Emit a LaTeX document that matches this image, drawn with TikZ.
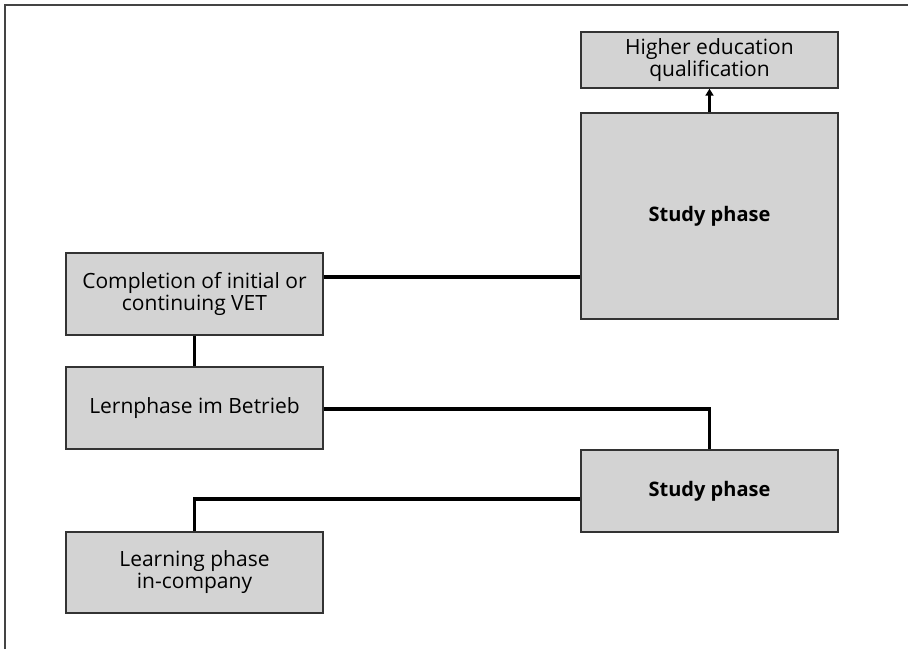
\documentclass[tikz,border=0pt]{standalone}
\usepackage{fontspec}
\setmainfont{Open Sans}
\usetikzlibrary{arrows.meta}
\definecolor{boxfill}{HTML}{D3D3D3}
\definecolor{boxline}{HTML}{333333}
\definecolor{framecol}{HTML}{444444}
\tikzset{
  phasebox/.style={draw=boxline, line width=1.4pt, fill=boxfill, rectangle,
    minimum width=257pt, inner sep=0pt, align=center,
    font=\fontsize{21}{22}\selectfont},
  boldbox/.style={phasebox, font=\fontsize{20}{22}\selectfont\bfseries},
  link/.style={line width=3.3pt, black},
}
\begin{document}
\begin{tikzpicture}[x=1pt,y=-1pt]
  \useasboundingbox (0,0) rectangle (908,649);
  % page frame: top and left edges only
  \draw[line width=2pt, framecol] (5,649) -- (5,5) -- (908,5);

  % boxes
  \node[phasebox, minimum height=56pt]  (high)   at (709.5,60)  {Higher education\\qualification};
  \node[boldbox,  minimum height=206pt] (study1) at (709.5,216) {Study phase};
  \node[phasebox, minimum height=82pt]  (comp)   at (194.5,294) {Completion of initial or\\continuing VET};
  \node[phasebox, minimum height=82pt]  (lern)   at (194.5,408) {Lernphase im Betrieb};
  \node[boldbox,  minimum height=82pt]  (study2) at (709.5,491) {Study phase};
  \node[phasebox, minimum height=81pt]  (learn)  at (194.5,572.5) {Learning phase\\in-company};

  % connectors
  \draw[link, -{Triangle[length=7pt,width=8pt]}] (study1.north) -- (high.south);
  \draw[link] ([yshift=17pt]comp.east) coordinate (c1) -- (c1 -| study1.west);
  \draw[link] (comp.south) -- (lern.north);
  \draw[link] ([yshift=-1pt]lern.east) -| (study2.north);
  \draw[link] ([yshift=-8pt]study2.west) -| (learn.north);
\end{tikzpicture}
\end{document}
